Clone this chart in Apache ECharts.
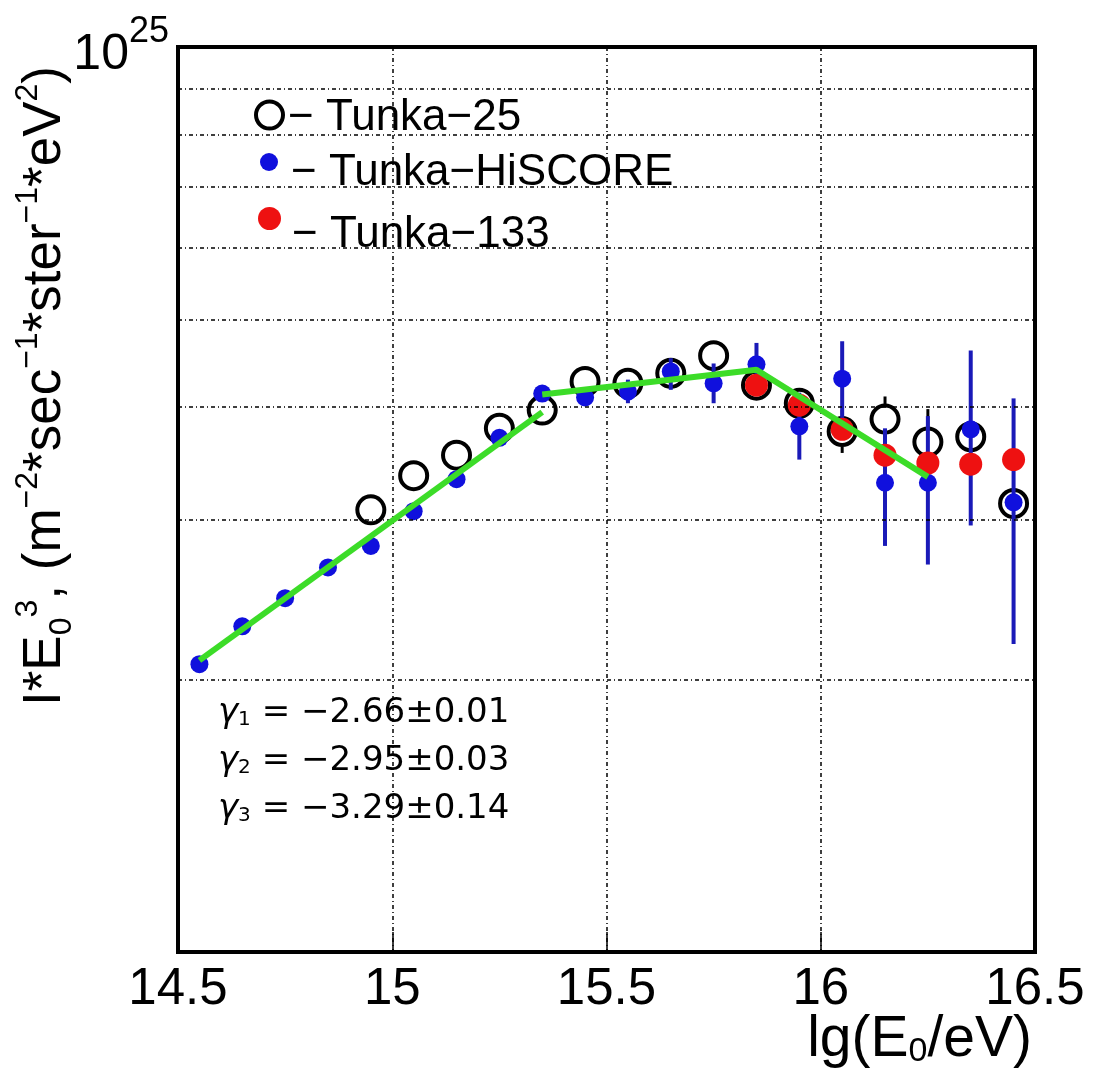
<!DOCTYPE html>
<html>
<head>
<meta charset="utf-8">
<script src="https://cdn.jsdelivr.net/npm/echarts@6/dist/echarts.min.js"></script>
<style>
html,body{margin:0;padding:0;background:#fff;}
#chart{width:1096px;height:1068px;}
</style>
</head>
<body>
<div id="chart"></div>
<script>
// ---- data ----
const hiscoreX  = [14.55,14.65,14.75,14.85,14.95,15.05,15.15,15.25,15.35,15.45,15.55,15.65,15.75,15.85,15.95,16.05,16.15,16.25,16.35,16.45];
const hiscoreY  = [2.08e24,2.29e24,2.46e24,2.66e24,2.81e24,3.07e24,3.33e24,3.70e24,4.14e24,4.10e24,4.16e24,4.38e24,4.25e24,4.46e24,3.81e24,4.30e24,3.30e24,3.30e24,3.78e24,3.14e24];
const hiscoreLo = [null,null,null,null,null,null,null,null,null,4.02e24,4.04e24,4.18e24,4.04e24,4.22e24,3.50e24,3.82e24,2.81e24,2.68e24,2.96e24,2.19e24];
const hiscoreHi = [null,null,null,null,null,null,null,null,null,4.17e24,4.29e24,4.53e24,4.47e24,4.71e24,4.15e24,4.73e24,3.79e24,3.91e24,4.62e24,4.09e24];

const t25X  = [14.95,15.05,15.15,15.25,15.35,15.45,15.55,15.65,15.75,15.85,15.95,16.05,16.15,16.25,16.35,16.45];
const t25Y  = [3.08e24,3.36e24,3.54e24,3.79e24,3.97e24,4.27e24,4.25e24,4.36e24,4.56e24,4.23e24,4.04e24,3.76e24,3.88e24,3.66e24,3.71e24,3.13e24];
const t25Lo = [null,null,null,null,null,null,null,null,null,null,null,3.56e24,3.66e24,3.37e24,null,null];
const t25Hi = [null,null,null,null,null,null,null,null,null,null,null,3.97e24,4.11e24,3.98e24,null,null];

const t133X = [15.85,15.95,16.05,16.15,16.25,16.35,16.45];
const t133Y = [4.23e24,4.02e24,3.78e24,3.54e24,3.47e24,3.46e24,3.50e24];

const fit1X = [14.55,15.35];
const fit1Y = [2.10e24,3.95e24];
const fit2X = [15.35,15.85,16.25];
const fit2Y = [4.13e24,4.40e24,3.35e24];

const gridValues = [2e24,3e24,4e24,5e24,6e24,7e24,8e24,9e24];
const xTicks = [14.5,15,15.5,16,16.5];
const gammaLines = [['1','−2.66±0.01'],['2','−2.95±0.03'],['3','−3.29±0.14']];

const seriesNames = ['Tunka-25','Tunka-HiSCORE','Tunka-133'];

// ---- helpers ----
const zip = (xs, ys) => xs.map((x, i) => [x, ys[i]]);
const errData = (xs, ys, lo, hi) => xs.map((x, i) => [x, ys[i], lo[i], hi[i]]).filter(d => d[2] != null);

function errRenderer(color, width, gap) {
  return function (params, api) {
    const x = api.value(0), v = api.value(1), lo = api.value(2), hi = api.value(3);
    const c = api.coord([x, v]);
    const pl = api.coord([x, lo]);
    const ph = api.coord([x, hi]);
    const children = [];
    const top = c[1] - gap, bot = c[1] + gap;
    if (ph[1] < top) children.push({type:'line', shape:{x1:c[0], y1:ph[1], x2:c[0], y2:top}, style:{stroke:color, lineWidth:width}});
    if (pl[1] > bot) children.push({type:'line', shape:{x1:c[0], y1:bot, x2:c[0], y2:pl[1]}, style:{stroke:color, lineWidth:width}});
    return {type:'group', children};
  };
}

const FONT = '"Liberation Sans", Arial, sans-serif';
const FONT2 = '"DejaVu Sans", sans-serif';
const dotted = {color:'#000', width:1.5, type:[4,3,1,3]};

const chart = echarts.init(document.getElementById('chart'), null, {renderer:'canvas'});

function legendFor(idx, opts) {
  return Object.assign({
    orient:'vertical', icon:'circle', selectedMode:false,
    formatter: n => '{a|− ' + n.replace('-', '−') + '}',
    textStyle:{color:'#000', rich:{a:{fontFamily:FONT, fontSize:44, color:'#000', padding:opts.pad}}},
    data:[{name:seriesNames[idx], itemStyle:opts.itemStyle}]
  }, opts.box);
}

chart.setOption({
  animation:false,
  backgroundColor:'#fff',
  grid:{left:178, right:61, top:47, bottom:116, show:true, borderColor:'#000', borderWidth:4, backgroundColor:'transparent'},
  xAxis:{
    type:'value', min:xTicks[0], max:xTicks[xTicks.length-1], interval:0.5,
    axisLine:{show:false},
    axisTick:{show:true, inside:true, length:20, lineStyle:{color:'#000', width:1.5}},
    axisLabel:{fontFamily:FONT, fontSize:51, color:'#000', margin:12, showMinLabel:true, showMaxLabel:true},
    splitLine:{show:true, lineStyle:dotted}
  },
  yAxis:{
    type:'log', logBase:10, min:1e24, max:1e25,
    axisLine:{show:false}, axisTick:{show:false},
    splitLine:{show:false},
    axisLabel:{
      showMinLabel:false, showMaxLabel:true, margin:9,
      formatter: v => (v > 5e24 ? '{b|10}{s|25}' : ''),
      rich:{
        b:{fontFamily:FONT, fontSize:50, color:'#000', padding:[16,0,0,0], verticalAlign:'bottom'},
        s:{fontFamily:FONT, fontSize:36, color:'#000', verticalAlign:'top'}
      }
    }
  },
  legend:[
    legendFor(0, {box:{left:249, top:91, itemWidth:27, itemHeight:27}, pad:[6,0,0,0],
      itemStyle:{color:'rgba(0,0,0,0)', borderColor:'#000', borderWidth:4, opacity:1}}),
    legendFor(1, {box:{left:255, top:146, itemWidth:18, itemHeight:18}, pad:[22,0,0,8],
      itemStyle:{color:'#1010dd', opacity:1}}),
    legendFor(2, {box:{left:253, top:202, itemWidth:23, itemHeight:23}, pad:[32,0,0,6],
      itemStyle:{color:'#ee1111', opacity:1}})
  ],
  graphic:[
    {type:'text', x:45, y:386, rotation:Math.PI/2, z:10,
      style:{
        text:'{n|I*E}{sub|0}{sup|3}{n|, (m}{sup|−2}{n|*sec}{sup|−1}{n|*ster}{sup|−1}{n|*eV}{sup|2}{n|)}',
        align:'center', verticalAlign:'middle',
        rich:{
          n:{fontFamily:FONT, fontSize:53, color:'#000', lineHeight:66, verticalAlign:'middle'},
          sup:{fontFamily:FONT, fontSize:32, color:'#000', verticalAlign:'top'},
          sub:{fontFamily:FONT, fontSize:32, color:'#000', verticalAlign:'bottom'}
        }
      }},
    {type:'text', x:1032, y:1040, z:10,
      style:{
        text:'{n|lg(E}{s|0}{n|/eV)}', align:'right', verticalAlign:'middle',
        rich:{
          n:{fontFamily:FONT, fontSize:57, color:'#000', verticalAlign:'bottom'},
          s:{fontFamily:FONT, fontSize:34, color:'#000', verticalAlign:'bottom'}
        }
      }},
    {type:'group', left:218, top:696, z:10,
      children: gammaLines.map((g, i) => ({
        type:'text', x:0, y:i*48,
        style:{
          text:'{g|γ}{s|' + g[0] + '}{t| = ' + g[1] + '}',
          rich:{
            g:{fontFamily:FONT2, fontSize:34, fontStyle:'italic', color:'#000', verticalAlign:'bottom'},
            s:{fontFamily:FONT2, fontSize:20, color:'#000', verticalAlign:'bottom'},
            t:{fontFamily:FONT2, fontSize:34, color:'#000', verticalAlign:'bottom'}
          }
        }
      }))}
  ],
  series:[
    {
      name:seriesNames[0], type:'scatter', z:2, symbol:'circle', symbolSize:27,
      itemStyle:{color:'rgba(0,0,0,0)', borderColor:'#000', borderWidth:4, opacity:1},
      emphasis:{disabled:true},
      data: zip(t25X, t25Y),
      markLine:{
        silent:true, symbol:'none', label:{show:false},
        lineStyle:dotted, emphasis:{disabled:true},
        data: gridValues.map(v => ({yAxis:v}))
      }
    },
    {
      name:'t25err', type:'custom', z:2, clip:true,
      renderItem: errRenderer('#000', 3, 15),
      encode:{x:0, y:[1,2,3]},
      data: errData(t25X, t25Y, t25Lo, t25Hi)
    },
    {
      name:'hiscoreErr', type:'custom', z:3, clip:true,
      renderItem: errRenderer('#1a1ab8', 4, 0),
      encode:{x:0, y:[1,2,3]},
      data: errData(hiscoreX, hiscoreY, hiscoreLo, hiscoreHi)
    },
    {
      name:seriesNames[1], type:'scatter', z:3, symbol:'circle', symbolSize:18,
      itemStyle:{color:'#1010dd', opacity:1}, emphasis:{disabled:true},
      data: zip(hiscoreX, hiscoreY)
    },
    {
      name:seriesNames[2], type:'scatter', z:4, symbol:'circle', symbolSize:23,
      itemStyle:{color:'#ee1111', opacity:1}, emphasis:{disabled:true},
      data: zip(t133X, t133Y)
    },
    {
      name:'fit1', type:'line', z:5, showSymbol:false, symbol:'none',
      lineStyle:{color:'#3cdc28', width:6}, emphasis:{disabled:true},
      data: zip(fit1X, fit1Y)
    },
    {
      name:'fit2', type:'line', z:5, showSymbol:false, symbol:'none',
      lineStyle:{color:'#3cdc28', width:6}, emphasis:{disabled:true},
      data: zip(fit2X, fit2Y)
    }
  ]
});
</script>
</body>
</html>
